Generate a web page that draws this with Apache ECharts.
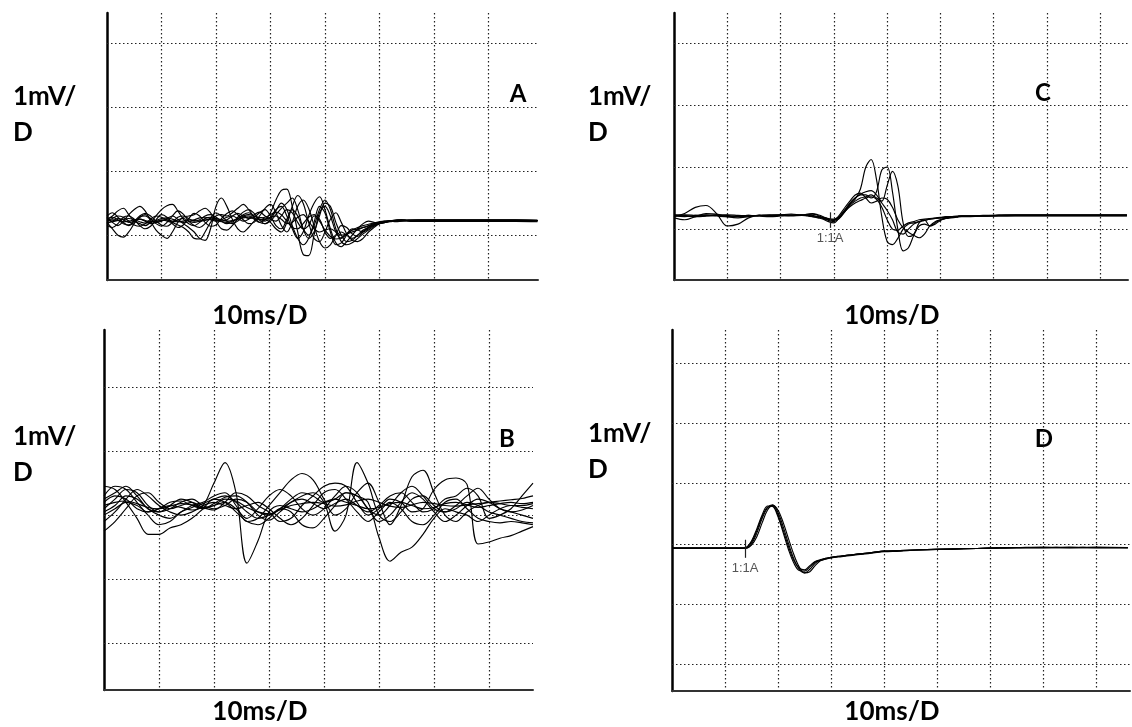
<!DOCTYPE html>
<html><head><meta charset="utf-8">
<script src="https://cdn.jsdelivr.net/npm/echarts@6/dist/echarts.min.js"></script>
<style>html,body{margin:0;padding:0;background:#fff}#c{width:1132px;height:727px}</style>
</head><body><div id="c"></div>
<script>
// ---------- Panel A (time in ms, amplitude in mV) ----------
const timeA = [0,1,2,3,4,5,6,7,8,9,10,11,12,13,14,15,16,17,18,19,20,21,22,23,24,25,26,27,28,29,30,
  31,32,33,34,35,36,37,38,39,40,41,42,43,44,45,46,47,48,49,50,51,52,53,54,55,56,57,58,59,60,65,70,75,79];
const traceA1 = [0.30,0.35,0.28,0.20,0.15,0.20,0.28,0.32,0.26,0.18,0.14,0.20,0.30,0.38,0.33,0.22,0.15,0.12,0.18,0.27,0.35,
  0.30,0.22,0.18,0.22,0.28,0.30,0.25,0.20,0.24,0.35, 0.55,0.70,0.72,0.45,0.05,-0.30,-0.32,0.00,0.35,0.45,
  0.30,0.05,-0.05,0.02,0.10,0.08,0.05,0.10,0.15,0.18, 0.20,0.22,0.21,0.22,0.23,0.24,0.24,0.24,0.24,0.24, 0.24,0.24,0.24,0.23];
const traceA2 = [0.20,0.10,0.00,-0.03,0.05,0.18,0.28,0.30,0.25,0.20,0.22,0.26,0.30,0.25,0.18,0.12,0.05,-0.05,-0.08,0.10,0.45,
  0.58,0.45,0.25,0.10,0.05,0.12,0.22,0.28,0.25,0.20, 0.10,0.05,0.20,0.45,0.62,0.50,0.20,-0.05,-0.10,0.05,
  0.25,0.35,0.20,0.02,-0.08,-0.10,-0.05,0.05,0.12,0.18, 0.20,0.22,0.23,0.24,0.24,0.23,0.23,0.23,0.23,0.23, 0.23,0.23,0.23,0.23];
const traceA3 = [0.25,0.30,0.38,0.42,0.32,0.22,0.18,0.15,0.20,0.30,0.40,0.46,0.48,0.38,0.25,0.18,0.15,0.20,0.26,0.28,0.25,
  0.22,0.24,0.30,0.34,0.30,0.26,0.28,0.35,0.40,0.30, 0.15,0.10,0.25,0.40,0.30,0.10,0.00,0.15,0.40,0.55,
  0.40,0.10,-0.10,-0.15,-0.12,-0.05,0.02,0.08,0.14,0.18, 0.20,0.21,0.22,0.22,0.22,0.22,0.22,0.22,0.22,0.22, 0.22,0.22,0.22,0.22];
const traceA4 = [0.18,0.22,0.26,0.24,0.20,0.22,0.25,0.22,0.18,0.20,0.24,0.22,0.20,0.24,0.26,0.22,0.20,0.22,0.25,0.24,0.22,
  0.24,0.28,0.30,0.26,0.22,0.25,0.32,0.36,0.30,0.25, 0.22,0.30,0.40,0.35,0.20,0.10,0.15,0.30,0.25,0.05,
  -0.05,0.00,0.05,0.00,-0.05,0.00,0.08,0.12,0.16,0.19, 0.21,0.22,0.22,0.23,0.23,0.23,0.235,0.235,0.235,0.235, 0.235,0.235,0.235,0.235];
const traceA5 = [0.28,0.20,0.15,0.22,0.32,0.40,0.45,0.38,0.22,0.08,0.00,-0.05,0.05,0.20,0.28,0.30,0.32,0.38,0.42,0.35,0.22,
  0.10,0.08,0.15,0.25,0.32,0.35,0.30,0.25,0.22,0.28, 0.40,0.45,0.30,0.10,-0.05,0.05,0.30,0.50,0.60,0.40,
  0.10,-0.12,-0.18,-0.10,0.00,0.10,0.18,0.22,0.20,0.18, 0.20,0.22,0.24,0.24,0.23,0.225,0.225,0.225,0.225,0.225, 0.225,0.225,0.225,0.225];
const traceA6 = [0.22,0.24,0.23,0.21,0.22,0.24,0.25,0.23,0.21,0.22,0.23,0.24,0.22,0.21,0.22,0.24,0.23,0.22,0.23,0.25,0.26,
  0.24,0.22,0.23,0.25,0.27,0.28,0.26,0.24,0.25,0.28, 0.30,0.25,0.18,0.20,0.28,0.32,0.22,0.10,0.05,0.08,
  0.10,0.05,0.00,0.02,0.05,0.08,0.12,0.15,0.18,0.20, 0.21,0.22,0.23,0.23,0.23,0.23,0.23,0.23,0.23,0.23, 0.23,0.23,0.23,0.23];
const traceA7 = [0.15,0.12,0.18,0.28,0.30,0.25,0.15,0.10,0.14,0.24,0.32,0.28,0.18,0.12,0.16,0.26,0.34,0.30,0.20,0.14,0.16,
  0.26,0.34,0.38,0.32,0.24,0.18,0.20,0.30,0.42,0.48, 0.35,0.15,0.05,0.20,0.45,0.55,0.42,0.15,-0.10,-0.20,
  -0.15,0.00,0.15,0.12,0.02,-0.02,0.05,0.12,0.16,0.19, 0.21,0.22,0.23,0.24,0.23,0.215,0.215,0.215,0.215,0.215, 0.215,0.215,0.215,0.21];
const traceA8 = [0.25,0.28,0.24,0.18,0.16,0.22,0.30,0.34,0.30,0.22,0.16,0.14,0.20,0.28,0.30,0.26,0.22,0.24,0.30,0.32,0.28,
  0.22,0.18,0.20,0.28,0.36,0.40,0.34,0.24,0.18,0.22, 0.32,0.42,0.50,0.58,0.40,0.10,-0.05,0.05,0.30,0.50,
  0.45,0.20,0.00,-0.10,-0.08,0.00,0.06,0.12,0.17,0.20, 0.22,0.23,0.23,0.23,0.23,0.23,0.23,0.23,0.23,0.23, 0.23,0.23,0.23,0.23];
const traceA9 = [0.24,0.26,0.30,0.28,0.22,0.16,0.14,0.18,0.25,0.30,0.28,0.24,0.20,0.16,0.12,0.05,-0.05,-0.06,0.05,0.20,0.30,
  0.32,0.30,0.35,0.42,0.48,0.40,0.28,0.20,0.18,0.25, 0.38,0.50,0.40,0.15,-0.05,-0.15,-0.05,0.20,0.45,0.35,
  0.05,-0.15,-0.12,0.00,0.08,0.10,0.12,0.14,0.17,0.20, 0.21,0.22,0.23,0.23,0.23,0.235,0.235,0.235,0.235,0.235, 0.235,0.235,0.235,0.23];
const traceA10 = [0.20,0.21,0.23,0.25,0.26,0.24,0.21,0.19,0.20,0.23,0.26,0.27,0.25,0.22,0.20,0.21,0.24,0.27,0.28,0.26,0.23,
  0.21,0.20,0.22,0.26,0.30,0.32,0.30,0.27,0.28,0.32, 0.36,0.32,0.22,0.12,0.10,0.18,0.28,0.32,0.22,0.08,
  -0.02,-0.06,-0.04,0.02,0.08,0.12,0.15,0.17,0.19,0.21, 0.22,0.22,0.23,0.23,0.23,0.225,0.225,0.225,0.225,0.225, 0.225,0.225,0.225,0.225];

// ---------- Panel B ----------
const timeB = [0,2,4,6,8,10,12,14,16,18,20,22,24,26,28,30,32,34,36,38,40,42,44,46,48,50,52,54,56,58,60,62,64,66,68,70,72,74,76,78];
const traceB1 = [0.20,0.30,0.25,0.10,0.05,0.10,0.15,0.12,0.08,0.15, 0.50,0.82,0.35,-0.75,-0.40,0.05,0.15,0.10,0.05,0.10,
  0.20,0.25,0.20,0.15,0.10,0.12,0.18,0.20,0.15,0.10, 0.12,0.18,0.20,0.16,0.12,0.15,0.18,0.20,0.18,0.20];
const traceB2 = [0.10,0.25,0.40,0.35,0.15,0.05,0.10,0.20,0.25,0.15, 0.10,0.15,0.25,0.20,0.05,0.00,0.10,0.25,0.35,0.30,
  0.20,0.25,0.35,0.30,0.20,-0.35,-0.72,-0.58,-0.50,-0.30, -0.05,0.10,0.05,0.00,-0.10,0.00,0.10,0.15,0.12,0.10];
const traceB3 = [0.30,0.45,0.40,0.20,0.00,-0.15,-0.10,0.05,0.12,0.18, 0.25,0.30,0.20,0.05,-0.05,0.00,0.10,0.20,0.30,0.35,
  0.20,-0.25,0.00,0.82,0.50,0.00,-0.10,0.05,0.25,0.30, 0.15,0.05,0.10,0.20,0.15,0.05,0.00,-0.05,-0.10,-0.12];
const traceB4 = [0.05,0.15,0.30,0.25,0.10,0.00,-0.05,0.05,0.15,0.20, 0.30,0.35,0.15,-0.10,-0.05,0.15,0.35,0.55,0.65,0.55,
  0.25,0.00,0.10,0.35,0.50,0.20,-0.15,0.15,0.60,0.70, 0.35,0.00,-0.10,0.05,0.15,0.20,0.18,0.15,0.15,0.18];
const traceB5 = [-0.25,-0.10,0.10,0.30,0.35,0.20,0.10,0.15,0.20,0.12, 0.08,0.20,0.35,0.30,0.15,0.05,-0.10,-0.05,0.15,0.30,
  0.45,0.50,0.45,0.20,0.00,0.10,0.25,0.20,0.05,0.10, 0.40,0.55,0.58,0.48,-0.45,-0.42,-0.36,-0.32,-0.25,-0.18];
const traceB6 = [0.45,0.40,0.20,-0.05,-0.30,-0.30,-0.20,-0.15,-0.05,0.10, 0.25,0.20,0.05,-0.10,-0.15,-0.05,0.10,0.05,-0.15,-0.20,
  -0.05,0.15,0.35,0.30,0.10,-0.10,0.00,0.20,0.35,0.25, 0.05,-0.10,0.00,0.15,0.25,0.20,0.10,0.05,0.00,-0.05];
const traceB7 = [0.15,0.20,0.22,0.18,0.12,0.10,0.14,0.18,0.16,0.12, 0.15,0.25,0.22,0.12,0.05,0.02,0.08,0.15,0.18,0.20,
  0.18,0.14,0.16,0.22,0.25,0.20,0.14,0.12,0.16,0.20, 0.18,0.15,0.14,0.16,0.18,0.20,0.22,0.24,0.26,0.30];
const traceB8 = [0.00,0.10,0.20,0.15,0.05,0.10,0.20,0.22,0.15,0.10, 0.18,0.28,0.30,0.20,0.00,-0.08,0.05,0.20,0.25,0.18,
  0.10,0.18,0.25,0.15,0.05,0.15,0.30,0.35,0.20,0.05, 0.10,0.25,0.30,0.42,0.30,-0.05,0.00,0.10,0.30,0.50];
const traceB9 = [0.25,0.35,0.45,0.30,0.10,0.05,0.15,0.25,0.20,0.10, 0.15,0.20,0.10,-0.05,0.10,0.30,0.40,0.30,0.10,0.00,
  0.10,0.30,0.45,0.35,0.10,0.00,0.15,0.35,0.45,0.30, 0.10,0.05,0.15,0.30,0.42,0.25,0.10,0.05,0.08,0.15];
const traceB10 = [-0.10,0.05,0.25,0.40,0.30,0.15,0.05,0.00,0.05,0.15, 0.20,0.15,0.10,0.15,0.20,0.10,-0.05,-0.15,-0.05,0.15,
  0.35,0.40,0.25,0.05,-0.10,0.05,0.20,0.10,-0.10,-0.15, 0.00,0.20,0.25,0.10,-0.05,-0.10,-0.12,-0.10,-0.12,-0.15];

// ---------- Panel C ----------
const timeC = [0,2,4,6,8,10,12,14,16,18,20,22,24,
  25,26,27,28,29,30,31,32,33,34,35,36,37,38,39,40,41,42,43,44,45,46,47,48,49,50,51,52,53,54,55,
  58,61,64,67,70,73,76,79,82,85];
const traceC1 = [0.22,0.21,0.20,0.22,0.21,0.20,0.21,0.22,0.21,0.22,0.23,0.22,0.22,
  0.23,0.24,0.22,0.18,0.15,0.14,0.20,0.30,0.40,0.48,0.65,1.00,1.12,0.80,0.20,-0.20,-0.25,-0.15,0.00,0.08,0.10,0.12,0.14,0.16,0.17,0.18,0.19,0.20,0.20,0.21,0.21,
  0.21,0.22,0.22,0.22,0.22,0.22,0.22,0.22,0.22,0.22];
const traceC2 = [0.20,0.25,0.35,0.38,0.25,0.05,0.08,0.18,0.22,0.21,0.22,0.22,0.23,
  0.22,0.20,0.18,0.16,0.12,0.10,0.18,0.30,0.42,0.50,0.55,0.55,0.50,0.60,0.95,1.00,0.60,0.00,-0.35,-0.30,-0.10,0.05,0.08,0.05,0.10,0.15,0.17,0.18,0.19,0.20,0.20,
  0.21,0.21,0.215,0.215,0.215,0.215,0.215,0.215,0.215,0.215];
const traceC3 = [0.23,0.22,0.20,0.21,0.23,0.22,0.20,0.21,0.22,0.22,0.23,0.24,0.23,
  0.24,0.25,0.23,0.20,0.16,0.14,0.18,0.28,0.38,0.45,0.50,0.52,0.55,0.50,0.45,0.70,0.93,0.70,0.10,-0.12,-0.08,0.10,0.15,0.05,0.08,0.14,0.18,0.19,0.20,0.21,0.21,
  0.22,0.225,0.225,0.225,0.225,0.225,0.225,0.225,0.225,0.225];
const traceC4 = [0.21,0.20,0.22,0.23,0.22,0.20,0.21,0.22,0.21,0.20,0.21,0.22,0.22,
  0.21,0.20,0.19,0.17,0.14,0.12,0.17,0.27,0.40,0.50,0.56,0.60,0.62,0.55,0.42,0.30,0.15,-0.05,-0.08,0.00,0.08,0.12,0.14,0.16,0.17,0.18,0.19,0.20,0.20,0.21,0.21,
  0.21,0.21,0.21,0.21,0.21,0.21,0.21,0.21,0.21,0.21];
const traceC5 = [0.22,0.23,0.22,0.21,0.22,0.23,0.22,0.21,0.22,0.23,0.22,0.21,0.22,
  0.22,0.21,0.20,0.18,0.15,0.15,0.22,0.34,0.45,0.55,0.58,0.50,0.42,0.45,0.50,0.48,0.35,0.15,0.02,-0.05,-0.10,-0.14,-0.08,0.05,0.12,0.15,0.17,0.19,0.20,0.21,0.21,
  0.21,0.22,0.23,0.23,0.23,0.23,0.23,0.23,0.23,0.23];
const traceC6 = [0.18,0.15,0.20,0.25,0.24,0.20,0.18,0.20,0.22,0.21,0.22,0.22,0.22,
  0.23,0.22,0.20,0.19,0.17,0.16,0.20,0.28,0.36,0.42,0.46,0.50,0.52,0.48,0.35,0.15,0.00,-0.02,0.05,0.10,0.12,0.15,0.16,0.17,0.18,0.19,0.20,0.20,0.21,0.21,0.21,
  0.21,0.22,0.22,0.22,0.22,0.22,0.22,0.22,0.22,0.22];

// ---------- Panel D ----------
const timeD = [0,4,8,11,13,14,15,16,17,18,19,20,21,22,23,24,25,26,27,28,29,30,32,34,36,38,40,43,46,50,55,60,65,70,75,80,86];
const traceD1 = [-0.07,-0.07,-0.07,-0.07, -0.07,-0.06,0.05,0.25,0.48,0.63,0.62,0.45,0.18,-0.10,-0.32,-0.44,-0.45,-0.38,-0.30,-0.27,-0.25,-0.23,
  -0.21,-0.19,-0.17,-0.15,-0.13, -0.12,-0.10,-0.09,-0.08,-0.07,-0.06,-0.06,-0.06,-0.06,-0.06];
const traceD2 = [-0.07,-0.07,-0.07,-0.07, -0.07,-0.07,0.00,0.18,0.42,0.60,0.65,0.52,0.28,0.00,-0.25,-0.42,-0.48,-0.42,-0.32,-0.27,-0.24,-0.22,
  -0.20,-0.18,-0.16,-0.14,-0.12, -0.11,-0.10,-0.09,-0.08,-0.07,-0.06,-0.06,-0.05,-0.06,-0.06];
const traceD3 = [-0.07,-0.07,-0.07,-0.07, -0.07,-0.07,-0.02,0.12,0.35,0.56,0.64,0.56,0.35,0.08,-0.18,-0.38,-0.48,-0.46,-0.36,-0.28,-0.25,-0.23,
  -0.20,-0.18,-0.16,-0.14,-0.12, -0.11,-0.10,-0.09,-0.08,-0.07,-0.06,-0.05,-0.06,-0.06,-0.06];
const traceD4 = [-0.07,-0.07,-0.07,-0.07, -0.07,-0.06,0.03,0.22,0.45,0.61,0.63,0.48,0.22,-0.05,-0.28,-0.40,-0.43,-0.36,-0.29,-0.26,-0.24,-0.22,
  -0.20,-0.18,-0.16,-0.14,-0.12, -0.11,-0.10,-0.09,-0.08,-0.07,-0.06,-0.06,-0.06,-0.05,-0.06];

// grid-line values (mV) and stimulus markers [time, top, bottom]
const hLinesA = [0,1,2,3];
const hLinesB = [-2,-1,0,1,2];
const hLinesC = [0,1,2,3];
const hLinesD = [-2,-1,0,1,2,3];
const markerC = [29.3, 0.27, 0.02];
const markerD = [13.8, 0.07, -0.23];
const markerLabel = '1:1A';
const yLabel = ['1mV/', 'D'];
const xLabel = '10ms/D';
const panelNames = ['A', 'B', 'C', 'D'];

// ---------- chart ----------
const panels = [
  {grid:{left:107, top:13, width:431, height:267}, x:[0,79.1], y:[-0.70,3.47], h:hLinesA, time:timeA,
    traces:[traceA1,traceA2,traceA3,traceA4,traceA5,traceA6,traceA7,traceA8,traceA9,traceA10]},
  {grid:{left:104, top:330, width:429, height:360}, x:[0,78], y:[-2.73,2.89], h:hLinesB, time:timeB,
    traces:[traceB1,traceB2,traceB3,traceB4,traceB5,traceB6,traceB7,traceB8,traceB9,traceB10]},
  {grid:{left:674, top:13, width:454, height:267}, x:[0,85.2], y:[-0.82,3.48], h:hLinesC, time:timeC,
    traces:[traceC1,traceC2,traceC3,traceC4,traceC5,traceC6], marker:markerC},
  {grid:{left:672, top:330, width:458, height:361}, x:[0,86.4], y:[-2.44,3.55], h:hLinesD, time:timeD,
    traces:[traceD1,traceD2,traceD3,traceD4], marker:markerD}
];
const dot = {color:'#222', width:1.2, type:[1.5,2.5]};
const option = {backgroundColor:'#fff', animation:false, grid:[], xAxis:[], yAxis:[], series:[], graphic:[]};
panels.forEach((p, i) => {
  option.grid.push(Object.assign({containLabel:false}, p.grid));
  option.xAxis.push({gridIndex:i, type:'value', min:p.x[0], max:p.x[1], interval:10,
    axisLine:{show:true, onZero:false, lineStyle:{color:'#333', width:2}}, axisTick:{show:false}, axisLabel:{show:false},
    splitLine:{show:true, showMinLine:false, showMaxLine:false, lineStyle:dot}});
  option.yAxis.push({gridIndex:i, type:'value', min:p.y[0], max:p.y[1],
    axisLine:{show:true, onZero:false, lineStyle:{color:'#000', width:2.5}}, axisTick:{show:false}, axisLabel:{show:false},
    splitLine:{show:false}});
  option.series.push({type:'line', xAxisIndex:i, yAxisIndex:i, data:[], z:1, silent:true,
    markLine:{silent:true, symbol:['none','none'], animation:false, label:{show:false}, lineStyle:dot,
      data:p.h.map(v => ({yAxis:v}))}});
  p.traces.forEach(tr => {
    option.series.push({type:'line', xAxisIndex:i, yAxisIndex:i, data:p.time.map((t,k) => [t, tr[k]]),
      symbol:'none', showSymbol:false, smooth:0.35, silent:true, z:3,
      lineStyle:{color:'#000', width:1.15}});
  });
  if (p.marker) {
    option.series.push({type:'line', xAxisIndex:i, yAxisIndex:i, data:[], z:4, silent:true,
      markLine:{silent:true, symbol:['none','none'], animation:false,
        lineStyle:{color:'#222', width:1.2, type:'solid'},
        label:{show:true, position:'end', formatter:markerLabel, color:'#555', fontSize:13, fontFamily:'Liberation Sans', distance:4},
        data:[[{coord:[p.marker[0], p.marker[1]]},{coord:[p.marker[0], p.marker[2]]}]]}});
  }
});
const big = {fontSize:26, fontWeight:'bold', fontFamily:'Lato', fill:'#000'};
function txt(s, x, y, align, size) {
  return {type:'text', x:x, y:y, silent:true, style:Object.assign({}, big, {text:s, align:align||'left', verticalAlign:'middle', fontSize:size||26})};
}
option.graphic = [
  txt(yLabel[0], 13, 97), txt(yLabel[1], 13, 133),
  txt(yLabel[0], 588, 97), txt(yLabel[1], 588, 133),
  txt(yLabel[0], 13, 437), txt(yLabel[1], 13, 473),
  txt(yLabel[0], 588, 434), txt(yLabel[1], 588, 470),
  txt(xLabel, 260, 316, 'center'), txt(xLabel, 892, 316, 'center'),
  txt(xLabel, 260, 712, 'center'), txt(xLabel, 892, 712, 'center'),
  txt(panelNames[0], 518, 94, 'center', 24), txt(panelNames[2], 1043, 93, 'center', 24),
  txt(panelNames[1], 507, 439, 'center', 24), txt(panelNames[3], 1044, 439, 'center', 24)
];
const chart = echarts.init(document.getElementById('c'), null, {renderer:'canvas'});
chart.setOption(option);
</script></body></html>
